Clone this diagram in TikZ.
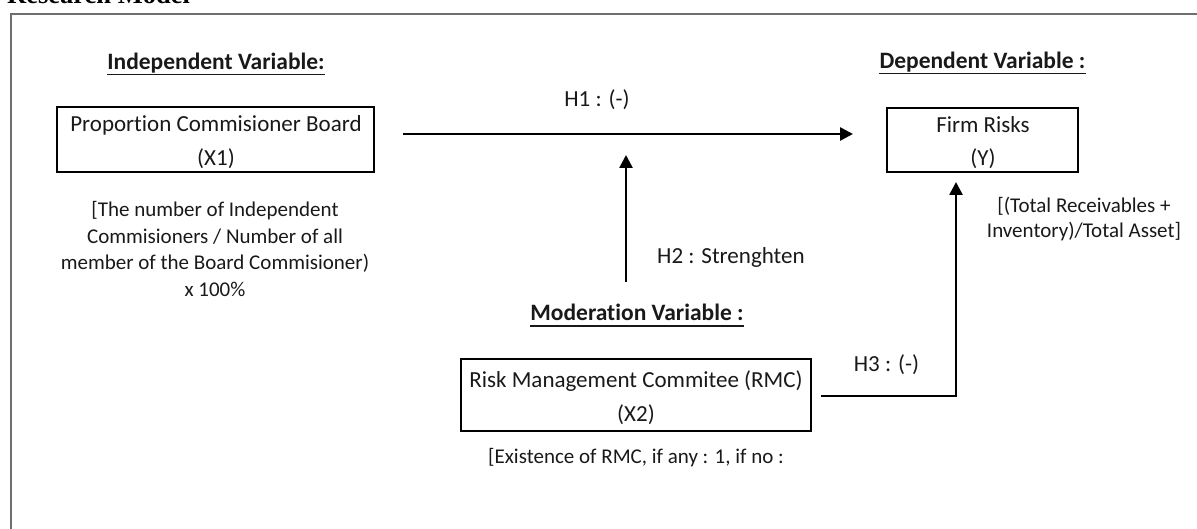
\documentclass[tikz,border=0pt]{standalone}
\usepackage{fontspec}
\setmainfont{Carlito}[Ligatures=CommonOff]
\newfontfamily\rmserif{Liberation Serif}
\usetikzlibrary{arrows.meta}
\definecolor{txt}{RGB}{25,25,25}
\definecolor{framegray}{RGB}{110,110,110}
\begin{document}
\begin{tikzpicture}[x=1pt,y=-1pt,
  hdr/.style={anchor=base,inner sep=0pt,font=\fontsize{23.5}{28}\selectfont\bfseries,text=txt},
  boxtxt/.style={anchor=base,inner sep=0pt,font=\fontsize{23}{28}\selectfont,text=txt},
  note/.style={anchor=base,inner sep=0pt,font=\fontsize{21}{25}\selectfont,text=txt},
  varbox/.style={draw=black,line width=1.8pt,inner sep=0pt},
  conn/.style={line width=2.6pt,-{Triangle[length=13pt,width=13pt]}},
  uline/.style={line width=1.5pt,draw=txt}]
\useasboundingbox (0,0) rectangle (1197,529);

% title (cut off at top, as in the reference) and frame
\node[anchor=base west,inner sep=0pt,font=\rmserif\bfseries\fontsize{26.5}{30}\selectfont] (title) at (7,3.5) {Research Model};
\draw[framegray,line width=2pt] (11,545) -- (11,14) -- (1215,14);

% headers
\node[hdr] (hdrx) at (216,70) {Independent Variable:};
\draw[uline] ([yshift=-4.5pt]hdrx.base west) -- ([yshift=-4.5pt]hdrx.base east);
\node[hdr] (hdry) at (982.5,68.5) {Dependent Variable :};
\draw[uline] ([yshift=-5pt]hdry.base west) -- ([yshift=-5pt]hdry.base east);
\node[hdr] (hdrm) at (637,321) {Moderation Variable :};
\draw[uline] ([yshift=-5pt]hdrm.base west) -- ([yshift=-5pt]hdrm.base east);

% boxes
\node[varbox,minimum width=317pt,minimum height=65pt] (bx1) at (215.5,139.5) {};
\node[boxtxt] (bx1a) at (216,132) {Proportion Commisioner Board};
\node[boxtxt] (bx1b) at (216,165.5) {(X1)};

\node[varbox,minimum width=191pt,minimum height=64pt] (by) at (982.5,140) {};
\node[boxtxt] (bya) at (983,133) {Firm Risks};
\node[boxtxt] (byb) at (983,166) {(Y)};

\node[varbox,minimum width=350pt,minimum height=72pt] (bx2) at (636,395) {};
\node[boxtxt] (bx2a) at (636,387) {Risk Management Commitee (RMC)};
\node[boxtxt] (bx2b) at (636,421) {(X2)};

% notes
\node[note] (n1a) at (215,217) {[The number of Independent};
\node[note] (n1b) at (215,243.5) {Commisioners / Number of all};
\node[note] (n1c) at (215,270) {member of the Board Commisioner)};
\node[note] (n1d) at (215,296.5) {x 100\%};
\node[note] (nya) at (1084,213) {[(Total Receivables +};
\node[note] (nyb) at (1084,238) {Inventory)/Total Asset]};
\node[note] (nx2) at (636,463) {[Existence of RMC, if any : 1, if no :};

% connectors
\coordinate (h1s) at (403,134);
\coordinate (h1e) at (853,134);
\draw[conn] (h1s) -- (h1e);
\node[boxtxt,anchor=base] (h1l) at (597,107) {H1 : (-)};

\coordinate (h2s) at (626,282);
\coordinate (h2e) at (626,155);
\draw[conn] (h2s) -- (h2e);
\node[boxtxt,anchor=base west] (h2l) at (657,264) {H2 : Strenghten};

\coordinate (h3s) at (821,396);
\coordinate (h3e) at (956,182);
\draw[conn,line cap=butt] (h3s) -| (h3e);
\node[boxtxt,anchor=base] (h3l) at (886.5,371) {H3 : (-)};
\end{tikzpicture}
\end{document}
